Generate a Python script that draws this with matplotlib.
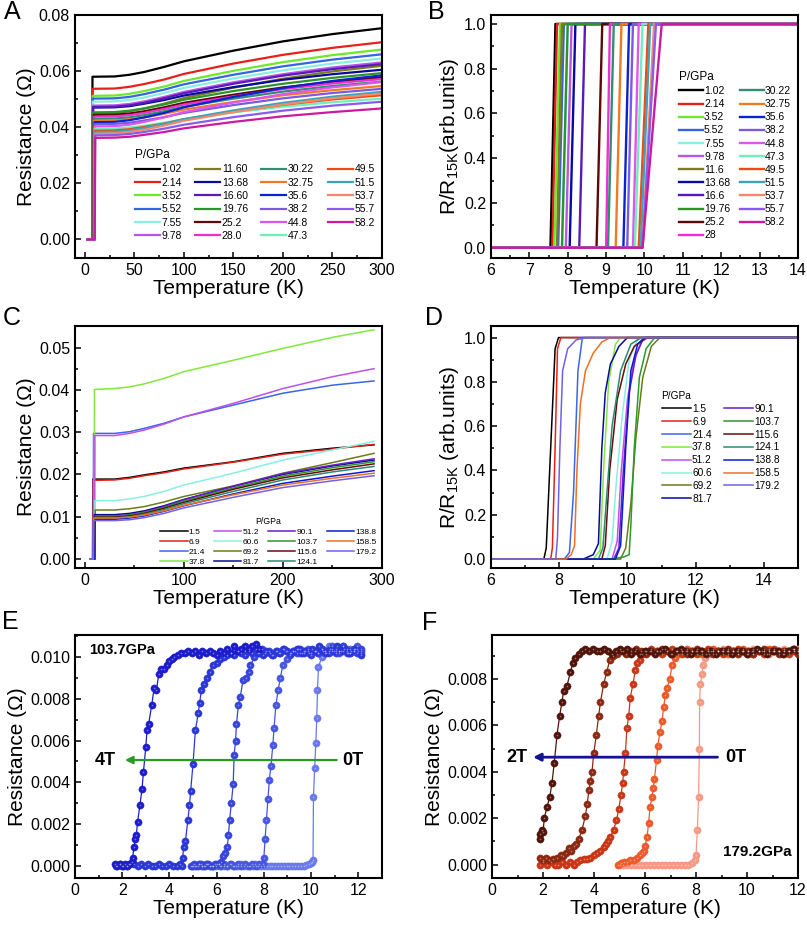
import numpy as np
import matplotlib.pyplot as plt
from matplotlib.ticker import MultipleLocator, FormatStrFormatter

plt.rcParams['font.family'] = ['Liberation Sans', 'DejaVu Sans']
plt.rcParams['mathtext.fontset'] = 'custom'
plt.rcParams['mathtext.rm'] = 'Liberation Sans'

# ---------------- panels A / B : low pressure run ----------------
A_labels = ["1.02", "2.14", "3.52", "5.52", "7.55", "9.78", "11.60", "13.68", "16.60", "19.76",
            "25.2", "28.0", "30.22", "32.75", "35.6", "38.2", "44.8", "47.3", "49.5", "51.5",
            "53.7", "55.7", "58.2"]
B_labels = ["1.02", "2.14", "3.52", "5.52", "7.55", "9.78", "11.6", "13.68", "16.6", "19.76",
            "25.2", "28", "30.22", "32.75", "35.6", "38.2", "44.8", "47.3", "49.5", "51.5",
            "53.7", "55.7", "58.2"]
AB_colors = ['#000000', '#e8201a', '#6fe82a', '#3366e0', '#88f0e0', '#b855e8', '#7d7d1e', '#0a0aa0',
             '#5a1ab8', '#2a962a', '#5e0808', '#f02ed2', '#2f8f72', '#f07a22', '#0a22d0', '#7a5ae0',
             '#e055ee', '#6ef0b8', '#ee4a16', '#3fa3b8', '#f08a6a', '#8a5af0', '#cc1aa0']
# transition: last zero point and first point of the normal state (K)
AB_tbot = [7.55, 7.6, 7.65, 7.75, 7.85, 7.95, 7.72, 8.05, 8.3, 7.85, 8.75, 9.0, 9.05, 9.25, 9.45,
           9.55, 9.7, 9.75, 9.85, 9.9, 9.95, 9.95, 9.95]
AB_ttop = [7.68, 7.72, 7.8, 7.9, 8.0, 8.1, 7.85, 8.2, 8.45, 8.0, 8.9, 9.1, 9.2, 9.4, 9.6,
           9.7, 9.85, 9.95, 10.1, 10.15, 10.25, 10.3, 10.45]
# normal state resistance (ohm) at T_top, then at the temperatures of A_T
A_T = [30, 45, 60, 80, 100, 150, 200, 250, 300]
A_R = [
    [.0580, .0581, .0587, .0597, .0615, .0635, .0673, .0706, .0732, .0753],
    [.0537, .0538, .0544, .0554, .0570, .0590, .0627, .0658, .0683, .0703],
    [.0512, .0513, .0519, .0529, .0545, .0565, .0601, .0632, .0657, .0677],
    [.0502, .0503, .0508, .0518, .0534, .0553, .0587, .0617, .0641, .0660],
    [.0491, .0492, .0497, .0506, .0522, .0540, .0574, .0603, .0627, .0645],
    [.0477, .0478, .0483, .0492, .0508, .0526, .0560, .0589, .0613, .0631],
    [.0450, .0451, .0457, .0467, .0484, .0504, .0541, .0573, .0599, .0619],
    [.0470, .0471, .0475, .0484, .0497, .0513, .0543, .0569, .0589, .0605],
    [.0472, .0473, .0478, .0487, .0503, .0521, .0555, .0584, .0607, .0625],
    [.0453, .0454, .0459, .0467, .0481, .0498, .0529, .0555, .0576, .0593],
    [.0444, .0445, .0449, .0457, .0471, .0487, .0516, .0542, .0562, .0578],
    [.0438, .0439, .0443, .0451, .0465, .0481, .0510, .0536, .0556, .0572],
    [.0430, .0431, .0435, .0443, .0457, .0473, .0502, .0527, .0547, .0563],
    [.0423, .0424, .0428, .0435, .0448, .0463, .0490, .0514, .0532, .0547],
    [.0418, .0419, .0425, .0435, .0451, .0471, .0508, .0540, .0565, .0585],
    [.0411, .0412, .0416, .0424, .0436, .0451, .0479, .0503, .0522, .0537],
    [.0403, .0404, .0409, .0419, .0435, .0454, .0488, .0518, .0542, .0561],
    [.0395, .0396, .0399, .0406, .0416, .0429, .0453, .0473, .0489, .0502],
    [.0388, .0389, .0393, .0401, .0413, .0428, .0456, .0480, .0499, .0514],
    [.0383, .0384, .0389, .0397, .0412, .0429, .0460, .0487, .0509, .0526],
    [.0377, .0378, .0383, .0391, .0406, .0423, .0454, .0481, .0503, .0520],
    [.0371, .0372, .0376, .0383, .0395, .0409, .0436, .0459, .0477, .0491],
    [.0362, .0363, .0366, .0373, .0383, .0396, .0419, .0439, .0454, .0467],
]

# ---------------- panels C / D : high pressure run ----------------
CD_labels = ["1.5", "6.9", "21.4", "37.8", "51.2", "60.6", "69.2", "81.7", "90.1", "103.7",
             "115.6", "124.1", "138.8", "158.5", "179.2"]
CD_colors = ['#000000', '#e8201a', '#3a66e8', '#80e840', '#c050e8', '#88f0e0', '#6b7a1a', '#0a0a99',
             '#6a1ad0', '#2a9a2a', '#6a0a0a', '#2a8a70', '#0a1ad8', '#f07020', '#7060f0']
C_tc = [7.75, 7.9, 8.45, 9.35, 9.85, 9.85, 10.25, 9.25, 9.9, 10.2, 9.6, 9.5, 9.95, 8.55, 8.05]
C_T = [30, 45, 60, 80, 100, 150, 200, 250, 292]
C_R = [
    [.0189, .0189, .0193, .0199, .0206, .0215, .0230, .0250, .0262, .0270],
    [.0186, .0187, .0191, .0197, .0204, .0213, .0229, .0248, .0260, .0271],
    [.0297, .0297, .0301, .0309, .0321, .0336, .0364, .0392, .0411, .0421],
    [.0401, .0403, .0407, .0414, .0427, .0443, .0470, .0498, .0524, .0542],
    [.0292, .0292, .0297, .0305, .0319, .0336, .0368, .0403, .0431, .0450],
    [.0138, .0138, .0142, .0148, .0160, .0175, .0203, .0234, .0258, .0278],
    [.0116, .0116, .0119, .0124, .0135, .0148, .0173, .0203, .0228, .0250],
    [.0105, .0105, .0108, .0114, .0126, .0141, .0172, .0200, .0220, .0234],
    [.0102, .0102, .0105, .0111, .0124, .0140, .0172, .0202, .0222, .0237],
    [.0101, .0101, .0104, .0110, .0122, .0137, .0168, .0196, .0216, .0230],
    [.0099, .0099, .0102, .0108, .0120, .0134, .0165, .0192, .0211, .0225],
    [.0097, .0097, .0100, .0106, .0117, .0131, .0160, .0187, .0206, .0219],
    [.0094, .0094, .0097, .0102, .0113, .0126, .0154, .0179, .0196, .0209],
    [.0097, .0097, .0099, .0104, .0114, .0127, .0152, .0175, .0191, .0203],
    [.0091, .0091, .0093, .0098, .0108, .0121, .0146, .0169, .0185, .0197],
]
# normalised transitions (T in K, R/R15K)
D_curves = [
    [(6, 0), (7.55, 0), (7.62, .05), (7.75, .5), (7.88, .95), (7.98, 1), (15, 1)],
    [(6, 0), (7.75, 0), (7.8, .05), (7.88, .5), (7.95, .95), (8.05, 1), (15, 1)],
    [(6, 0), (8.15, 0), (8.3, .03), (8.42, .3), (8.55, .85), (8.68, 1), (15, 1)],
    [(6, 0), (9.0, 0), (9.2, .04), (9.3, .4), (9.45, .8), (9.65, .97), (9.8, 1), (15, 1)],
    [(6, 0), (9.55, 0), (9.7, .08), (9.82, .4), (10.0, .72), (10.2, .9), (10.4, .98), (10.6, 1), (15, 1)],
    [(6, 0), (9.4, 0), (9.55, .08), (9.65, .3), (9.85, .65), (10.05, .9), (10.3, .99), (10.5, 1), (15, 1)],
    [(6, 0), (9.8, 0), (9.95, .05), (10.1, .25), (10.25, .55), (10.45, .82), (10.7, .96), (10.95, 1), (15, 1)],
    [(6, 0), (8.7, 0), (9.0, .02), (9.15, .07), (9.25, .5), (9.35, .75), (9.5, .88), (9.75, .96), (10.0, 1), (15, 1)],
    [(6, 0), (9.6, 0), (9.75, .05), (9.88, .4), (10.05, .75), (10.25, .92), (10.45, .99), (10.6, 1), (15, 1)],
    [(6, 0), (9.5, 0), (9.9, .01), (10.05, .02), (10.1, .15), (10.2, .5), (10.35, .82), (10.55, .95), (10.8, 1), (15, 1)],
    [(6, 0), (9.25, 0), (9.35, .06), (9.48, .4), (9.7, .72), (9.95, .88), (10.2, .96), (10.55, 1), (15, 1)],
    [(6, 0), (9.15, 0), (9.28, .05), (9.4, .3), (9.55, .6), (9.8, .85), (10.1, .97), (10.4, 1), (15, 1)],
    [(6, 0), (9.65, 0), (9.8, .06), (9.95, .5), (10.1, .85), (10.3, .97), (10.5, 1), (15, 1)],
    [(6, 0), (8.2, 0), (8.35, .02), (8.45, .06), (8.52, .4), (8.62, .7), (8.77, .85), (9.0, .93), (9.25, .98), (9.5, 1), (15, 1)],
    [(6, 0), (7.9, 0), (7.95, .1), (8.02, .5), (8.1, .85), (8.25, .95), (8.5, .99), (8.8, 1), (15, 1)],
]

# ---------------- panel E : 103.7 GPa in field (mOhm) ----------------
E_fields = ["4T", "3T", "2T", "1T", "0T"]
E_colors = ['#1c1ccc', '#2a36d6', '#3644dc', '#4656e2', '#6a78ee']
E_4T = [(1.7, .1), (1.8, 0), (1.9, .1), (2.0, 0), (2.1, .1), (2.2, 0), (2.3, .1), (2.4, .2), (2.44, .4), (2.5, .9),
        (2.56, 1.3), (2.6, 1.5), (2.65, 2.1), (2.75, 2.9), (2.84, 3.7), (2.9, 4.5), (3.0, 5.7), (3.05, 6.5), (3.12, 6.8),
        (3.25, 7.7), (3.35, 8.5), (3.45, 8.4), (3.55, 9.2), (3.65, 9.4), (3.78, 9.4), (3.9, 9.6), (4.0, 9.8), (4.1, 9.9),
        (4.2, 10.0), (4.35, 10.1), (4.5, 10.2), (4.65, 10.2), (4.8, 10.3), (4.95, 10.2), (5.1, 10.3), (5.25, 10.1),
        (5.4, 10.3), (5.55, 10.2), (5.7, 10.3), (5.85, 10.2), (6.0, 10.1), (6.15, 10.3), (6.3, 10.2), (6.45, 10.4),
        (6.6, 10.2), (6.75, 10.5), (6.9, 10.3), (7.05, 10.4), (7.2, 10.5), (7.35, 10.4), (7.5, 10.5), (7.65, 10.6), (7.8, 10.4)]
E_3T = [(1.75, 0), (1.9, .1), (2.05, 0), (2.2, 0), (2.35, .1), (2.5, .1), (2.65, 0), (2.8, .1), (2.95, 0), (3.1, .1),
        (3.25, 0), (3.4, 0), (3.55, .1), (3.7, 0), (3.85, 0), (4.0, .1), (4.15, 0), (4.3, 0), (4.45, .1), (4.52, 0),
        (4.56, .4), (4.6, .9), (4.68, 1.2), (4.78, 2.2), (4.85, 2.9), (4.9, 3.6), (5.0, 4.9), (5.1, 6.5), (5.22, 7.3),
        (5.28, 7.8), (5.35, 8.4), (5.45, 8.7), (5.58, 9.0), (5.7, 9.3), (5.85, 9.6), (6.0, 9.7), (6.15, 9.9), (6.3, 10.0),
        (6.45, 10.1), (6.6, 10.2), (6.75, 10.1), (6.9, 10.3), (7.05, 10.2), (7.2, 10.1), (7.35, 10.3), (7.5, 10.2),
        (7.65, 10.4), (7.8, 10.2), (7.95, 10.1), (8.1, 10.3), (8.25, 10.2), (8.4, 10.1), (8.55, 10.3), (8.7, 10.2),
        (8.85, 10.4), (9.0, 10.3), (9.15, 10.2), (9.3, 10.3), (9.45, 10.4), (9.6, 10.2), (9.75, 10.3), (9.9, 10.2),
        (10.05, 10.4), (10.2, 10.3), (10.35, 10.5), (10.5, 10.3), (10.65, 10.2), (10.8, 10.4), (10.95, 10.3),
        (11.1, 10.5), (11.25, 10.3), (11.4, 10.4), (11.55, 10.2), (11.7, 10.3), (11.85, 10.4), (12.0, 10.3), (12.1, 10.1)]
E_2T = [(4.9, 0), (5.05, .1), (5.2, 0), (5.35, .1), (5.5, 0), (5.65, .1), (5.8, 0), (5.95, .1), (6.1, .1), (6.2, .2),
        (6.27, .5), (6.35, .6), (6.45, .9), (6.5, 1.5), (6.55, 2.2), (6.62, 3.0), (6.7, 3.9), (6.74, 5.3), (6.8, 6.0),
        (6.84, 6.8), (6.92, 7.7), (7.0, 8.1), (7.12, 8.9), (7.26, 9.0), (7.35, 9.3), (7.43, 9.6), (7.6, 10.0), (7.75, 10.2),
        (7.9, 10.4), (8.05, 10.2), (8.2, 10.3), (8.35, 10.1), (8.5, 10.3), (8.65, 10.2), (8.8, 10.4), (8.95, 10.3),
        (9.1, 10.1), (9.25, 10.3), (9.4, 10.2), (9.55, 10.4), (9.7, 10.2), (9.85, 10.3), (10.0, 10.1), (10.15, 10.3),
        (10.3, 10.2), (10.45, 10.4), (10.6, 10.3), (10.75, 10.2), (10.9, 10.4), (11.05, 10.2), (11.2, 10.3),
        (11.35, 10.5), (11.5, 10.3), (11.65, 10.2), (11.8, 10.4), (11.95, 10.2), (12.1, 10.4)]
E_1T = [(4.95, 0), (5.1, 0), (5.25, .1), (5.4, 0), (5.55, .1), (5.7, 0), (5.85, 0), (6.0, .1), (6.15, 0), (6.3, .1),
        (6.45, 0), (6.6, .1), (6.75, 0), (6.9, .1), (7.05, 0), (7.2, .1), (7.35, 0), (7.5, .1), (7.65, 0), (7.8, .1),
        (7.95, .1), (8.0, .4), (8.05, 1.3), (8.11, 2.2), (8.17, 3.2), (8.23, 4.1), (8.3, 4.8), (8.38, 5.8), (8.43, 6.6),
        (8.51, 7.7), (8.6, 8.4), (8.7, 9.0), (8.8, 9.6), (8.96, 9.9), (9.1, 10.2), (9.25, 10.3), (9.4, 10.4), (9.55, 10.2),
        (9.7, 10.3), (9.85, 10.4), (10.0, 10.2), (10.15, 10.3), (10.3, 10.2), (10.45, 10.4), (10.6, 10.2), (10.75, 10.3),
        (10.9, 10.5), (11.05, 10.3), (11.2, 10.2), (11.35, 10.3), (11.5, 10.4), (11.65, 10.2), (11.8, 10.3),
        (11.95, 10.5), (12.1, 10.3)]
E_0T = [(5.0, 0), (5.12, 0), (5.24, .1), (5.36, 0), (5.48, 0), (5.6, .1), (5.72, 0), (5.84, 0), (5.96, 0), (6.08, .1),
        (6.2, 0), (6.32, 0), (6.44, 0), (6.56, .1), (6.68, 0), (6.8, 0), (6.92, 0), (7.04, .1), (7.16, 0), (7.28, 0),
        (7.4, 0), (7.52, 0), (7.64, .1), (7.76, 0), (7.88, 0), (8.0, 0), (8.12, 0), (8.24, 0), (8.36, 0), (8.48, 0),
        (8.6, 0), (8.72, 0), (8.84, 0), (8.96, 0), (9.08, 0), (9.2, 0), (9.32, 0), (9.44, 0), (9.56, 0), (9.68, 0),
        (9.8, .05), (9.9, .1), (9.98, .15), (10.05, .2), (10.08, .3), (10.1, 3.3), (10.15, 4.7), (10.2, 5.9),
        (10.24, 7.1), (10.27, 8.4), (10.31, 9.5), (10.45, 10.0), (10.6, 10.3), (10.75, 10.5), (10.9, 10.3),
        (11.05, 10.4), (11.2, 10.3), (11.35, 10.5), (11.5, 10.2), (11.65, 10.4), (11.8, 10.3), (11.95, 10.4), (12.1, 10.2)]
E_data = [E_4T, E_3T, E_2T, E_1T, E_0T]

# ---------------- panel F : 179.2 GPa in field (mOhm) ----------------
F_colors = ['#50140a', '#8c2812', '#c83616', '#ec5a2c', '#f49a84']
F_2T = [(1.87, 1.1), (1.9, 1.3), (1.95, 1.5), (2.0, 1.4), (2.05, 2.0), (2.16, 2.5), (2.26, 2.9), (2.35, 3.5), (2.44, 4.4),
        (2.55, 5.6), (2.65, 6.4), (2.74, 7.0), (2.81, 7.5), (2.94, 7.7), (3.07, 8.3), (3.18, 8.7), (3.27, 8.9), (3.4, 9.1),
        (3.53, 9.2), (3.65, 9.3), (3.8, 9.2), (3.95, 9.3), (4.1, 9.2), (4.25, 9.2), (4.4, 9.3), (4.55, 9.2), (4.7, 9.1),
        (4.85, 9.2), (5.0, 9.3), (5.15, 9.2), (5.3, 9.3), (5.45, 9.1), (5.6, 9.2), (5.8, 9.1), (6.0, 9.2), (6.2, 9.2),
        (6.4, 9.1), (6.6, 9.2), (6.8, 9.3), (7.0, 9.1), (7.2, 9.2), (7.4, 9.3), (7.6, 9.2), (7.8, 9.1), (8.0, 9.2),
        (8.2, 9.2), (8.4, 9.1), (8.6, 9.2), (8.8, 9.1), (9.0, 9.2), (9.2, 9.2), (9.4, 9.1), (9.6, 9.2), (9.8, 9.2),
        (10.0, 9.1), (10.2, 9.2), (10.4, 9.3), (10.6, 9.2), (10.8, 9.1), (11.0, 9.2), (11.2, 9.2), (11.4, 9.1),
        (11.6, 9.2), (11.8, 9.3), (12.0, 9.2)]
F_15T = [(1.87, .3), (2.0, .2), (2.12, .3), (2.25, .2), (2.4, .25), (2.55, .3), (2.7, .4), (2.8, .35), (2.9, .5),
         (3.0, .7), (3.1, .6), (3.2, .8), (3.3, .9), (3.4, 1.1), (3.53, 1.5), (3.66, 2.1), (3.73, 2.6), (3.8, 3.2),
         (3.86, 3.6), (3.92, 4.0), (3.99, 4.8), (4.09, 5.6), (4.18, 6.4), (4.25, 7.0), (4.38, 7.8), (4.5, 8.3),
         (4.61, 8.8), (4.75, 9.0), (4.9, 9.1), (5.05, 9.2), (5.25, 9.1), (5.45, 9.2), (5.65, 9.3), (5.85, 9.2),
         (6.05, 9.1), (6.25, 9.2), (6.45, 9.2), (6.65, 9.3), (6.85, 9.2), (7.05, 9.1), (7.25, 9.2), (7.45, 9.2),
         (7.65, 9.1), (7.85, 9.2), (8.05, 9.3), (8.25, 9.2), (8.45, 9.2), (8.65, 9.1), (8.85, 9.2), (9.05, 9.2),
         (9.25, 9.3), (9.45, 9.2), (9.65, 9.1), (9.85, 9.2), (10.05, 9.2), (10.25, 9.1), (10.45, 9.2), (10.65, 9.3),
         (10.85, 9.2), (11.05, 9.2), (11.25, 9.1), (11.45, 9.2), (11.65, 9.2), (11.85, 9.3), (12.0, 9.1)]
F_1T = [(1.87, 0), (2.0, .1), (2.15, 0), (2.3, .1), (2.45, 0), (2.6, 0), (2.75, .1), (2.9, 0), (3.05, .1), (3.2, 0),
        (3.35, .1), (3.46, .2), (3.6, .25), (3.73, .25), (3.86, .3), (3.99, .4), (4.12, .5), (4.25, .6), (4.38, .75),
        (4.48, .9), (4.56, 1.0), (4.64, 1.2), (4.77, 1.5), (4.88, 1.9), (4.97, 2.4), (5.06, 3.0), (5.12, 3.5),
        (5.16, 4.0), (5.23, 4.8), (5.29, 5.9), (5.36, 6.4), (5.42, 7.2), (5.53, 7.8), (5.62, 8.4), (5.7, 8.7),
        (5.79, 8.8), (5.9, 9.1), (6.05, 9.2), (6.25, 9.3), (6.45, 9.2), (6.65, 9.1), (6.85, 9.2), (7.05, 9.3),
        (7.25, 9.2), (7.45, 9.1), (7.65, 9.2), (7.85, 9.2), (8.05, 9.1), (8.25, 9.2), (8.45, 9.3), (8.65, 9.2),
        (8.85, 9.2), (9.05, 9.1), (9.25, 9.2), (9.45, 9.2), (9.65, 9.3), (9.85, 9.2), (10.05, 9.1), (10.25, 9.2),
        (10.45, 9.2), (10.65, 9.1), (10.85, 9.2), (11.05, 9.3), (11.25, 9.2), (11.45, 9.2), (11.65, 9.1),
        (11.85, 9.2), (12.0, 9.2)]
F_05T = [(4.95, 0), (5.05, .05), (5.16, .1), (5.29, .1), (5.42, .2), (5.55, .2), (5.69, .3), (5.8, .4), (5.88, .5),
         (5.95, .6), (6.01, .8), (6.08, 1.2), (6.14, 1.8), (6.2, 2.5), (6.27, 2.9), (6.32, 3.3), (6.37, 3.7),
         (6.45, 4.5), (6.5, 5.1), (6.58, 5.7), (6.67, 6.2), (6.73, 6.8), (6.8, 7.3), (6.86, 7.6), (6.97, 8.0),
         (7.06, 8.6), (7.19, 8.9), (7.3, 9.1), (7.45, 9.2), (7.65, 9.3), (7.85, 9.2), (8.05, 9.2), (8.25, 9.1),
         (8.45, 9.2), (8.65, 9.3), (8.85, 9.2), (9.05, 9.2), (9.25, 9.1), (9.45, 9.2), (9.65, 9.2), (9.85, 9.3),
         (10.05, 9.2), (10.25, 9.1), (10.45, 9.2), (10.65, 9.2), (10.85, 9.3), (11.05, 9.2), (11.25, 9.2),
         (11.45, 9.1), (11.65, 9.2), (11.85, 9.3), (12.0, 9.2)]
F_0T = [(5.0, 0), (5.15, 0), (5.3, 0), (5.45, 0), (5.6, 0), (5.75, 0), (5.9, 0), (6.05, 0), (6.2, 0), (6.35, 0),
        (6.5, 0), (6.65, 0), (6.8, 0), (6.95, 0), (7.1, 0), (7.25, 0), (7.4, 0), (7.55, 0), (7.7, 0), (7.85, .05),
        (7.96, .2), (8.0, .4), (8.05, 1.5), (8.1, 2.9), (8.13, 5.0), (8.14, 7.0), (8.17, 7.8), (8.24, 8.2),
        (8.27, 8.6), (8.37, 8.9), (8.5, 9.1), (8.65, 9.2), (8.85, 9.2), (9.05, 9.3), (9.25, 9.2), (9.45, 9.2),
        (9.65, 9.1), (9.85, 9.2), (10.05, 9.2), (10.25, 9.3), (10.45, 9.2), (10.65, 9.2), (10.85, 9.1),
        (11.05, 9.2), (11.25, 9.2), (11.45, 9.3), (11.65, 9.2), (11.85, 9.2), (12.0, 9.3)]
F_data = [F_2T, F_15T, F_1T, F_05T, F_0T]


def style(ax, xlim, ylim, xmaj, xmin, ymaj, ymin, yfmt, ylabel):
    ax.set_xlim(*xlim)
    ax.set_ylim(*ylim)
    ax.xaxis.set_major_locator(MultipleLocator(xmaj))
    ax.xaxis.set_minor_locator(MultipleLocator(xmin))
    ax.yaxis.set_major_locator(MultipleLocator(ymaj))
    ax.yaxis.set_minor_locator(MultipleLocator(ymin))
    ax.yaxis.set_major_formatter(FormatStrFormatter(yfmt))
    ax.tick_params(which='both', direction='in', top=False, right=False, labelsize=11.5, width=1.1)
    ax.tick_params(which='major', length=4)
    ax.tick_params(which='minor', length=2.5)
    for s in ax.spines.values():
        s.set_linewidth(1.5)
    ax.set_xlabel('Temperature (K)', fontsize=15, labelpad=1)
    ax.set_ylabel(ylabel, fontsize=15, labelpad=2)


def balls(ax, pts, color):
    t, r = np.array(pts).T
    r = r / 1000.0
    ax.plot(t, r, '-', color=color, lw=0.9, zorder=2)
    ax.plot(t, r, 'o', ms=5.2, mfc=color, mec=color, mew=0.3, zorder=3)
    ax.plot(t, r, 'o', ms=1.2, mfc='white', mec='none', alpha=0.4, zorder=4)


fig = plt.figure(figsize=(8.07, 9.27), dpi=100)
axA = fig.add_axes([0.0929, 0.7217, 0.3804, 0.2621])
axB = fig.add_axes([0.6084, 0.7217, 0.3804, 0.2621])
axC = fig.add_axes([0.0929, 0.3873, 0.3804, 0.2611])
axD = fig.add_axes([0.6084, 0.3873, 0.3804, 0.2611])
axE = fig.add_axes([0.0929, 0.0529, 0.3804, 0.2621])
axF = fig.add_axes([0.6097, 0.0529, 0.3792, 0.2621])

# A
for i in range(len(A_labels)):
    t = [3, AB_tbot[i], AB_ttop[i]] + A_T
    r = [0, 0] + A_R[i]
    axA.plot(t, r, color=AB_colors[i], lw=1.6, label=A_labels[i])
style(axA, (-10, 300), (-0.0066, 0.08), 50, 25, 0.02, 0.01, '%.2f', 'Resistance (Ω)')
axA.legend(ncol=4, fontsize=7.5, title='P/GPa', title_fontsize=8.5, frameon=False, handlelength=2.4,
           handletextpad=0.15, columnspacing=1.3, labelspacing=0.32, loc='lower right',
           bbox_to_anchor=(1.0, 0.04), alignment='left', borderpad=0.2)

# B
for i in range(len(B_labels)):
    t = [6, AB_tbot[i], AB_ttop[i], 14]
    axB.plot(t, [0, 0, 1, 1], color=AB_colors[i], lw=1.7, label=B_labels[i])
style(axB, (6, 14), (-0.046, 1.04), 1, 0.5, 0.2, 0.1, '%.1f', 'R/R$_{\\mathrm{15K}}$(arb.units)')
axB.legend(ncol=2, fontsize=7.5, title='P/GPa', title_fontsize=8.5, frameon=False, handlelength=2.3,
           handletextpad=0.1, columnspacing=0.9, labelspacing=0.3, loc='upper right',
           bbox_to_anchor=(1.0, 0.8), alignment='left', borderpad=0.2)

# C
for i in range(len(CD_labels)):
    t = [5, C_tc[i], C_tc[i] + 0.3] + C_T
    r = [0, 0] + C_R[i]
    axC.plot(t, r, color=CD_colors[i], lw=1.1, label=CD_labels[i])
style(axC, (-10, 300), (-0.0021, 0.0551), 100, 50, 0.01, 0.005, '%.2f', 'Resistance (Ω)')
axC.legend(ncol=4, fontsize=6.0, title='P/GPa', title_fontsize=6.3, frameon=False, handlelength=3.3,
           handletextpad=0.1, columnspacing=1.1, labelspacing=0.25, loc='lower right',
           bbox_to_anchor=(1.0, -0.015), borderpad=0.2)

# D
for i in range(len(CD_labels)):
    t, r = np.array(D_curves[i]).T
    axD.plot(t, r, color=CD_colors[i], lw=1.1, label=CD_labels[i])
style(axD, (6, 15), (-0.04, 1.0525), 2, 1, 0.2, 0.1, '%.1f', 'R/R$_{\\mathrm{15K}}$ (arb.units)')
axD.legend(ncol=2, fontsize=7.3, title='P/GPa', title_fontsize=7.3, frameon=False, handlelength=2.9,
           handletextpad=0.1, columnspacing=1.2, labelspacing=0.28, loc='upper right',
           bbox_to_anchor=(0.965, 0.76), alignment='left', borderpad=0.2)

# E
for pts, c in zip(E_data[::-1], E_colors[::-1]):
    balls(axE, pts, c)
style(axE, (0, 13), (-0.00057, 0.01105), 2, 1, 0.002, 0.001, '%.3f', 'Resistance (Ω)')
axE.text(0.045, 0.94, '103.7GPa', transform=axE.transAxes, fontsize=10.5, fontweight='bold', va='center')
axE.annotate('', xy=(2.0, 0.00507), xytext=(11.2, 0.00507),
             arrowprops=dict(arrowstyle='-|>', color='#2a9a22', lw=1.6, mutation_scale=11))
axE.text(1.75, 0.00507, '4T', fontsize=13, fontweight='bold', ha='right', va='center')
axE.text(11.3, 0.00507, '0T', fontsize=13, fontweight='bold', ha='left', va='center')

# F
for pts, c in zip(F_data[::-1], F_colors[::-1]):
    balls(axF, pts, c)
style(axF, (0, 12), (-0.00058, 0.0099), 2, 1, 0.002, 0.001, '%.3f', 'Resistance (Ω)')
axF.text(11.75, 0.00055, '179.2GPa', fontsize=11, fontweight='bold', ha='right', va='center')
axF.annotate('', xy=(1.5, 0.00463), xytext=(8.95, 0.00463),
             arrowprops=dict(arrowstyle='-|>', color='#141490', lw=2.0, mutation_scale=11))
axF.text(1.4, 0.00463, '2T', fontsize=13, fontweight='bold', ha='right', va='center')
axF.text(9.15, 0.00463, '0T', fontsize=13, fontweight='bold', ha='left', va='center')

# panel letters
for lab, x, y in [('A', 12, 12), ('B', 436, 12), ('C', 12, 318), ('D', 434, 318), ('E', 10, 622), ('F', 430, 623)]:
    fig.text(x / 807, 1 - y / 927, lab, fontsize=18, ha='center', va='center')

fig.savefig('out.png', dpi=100)
